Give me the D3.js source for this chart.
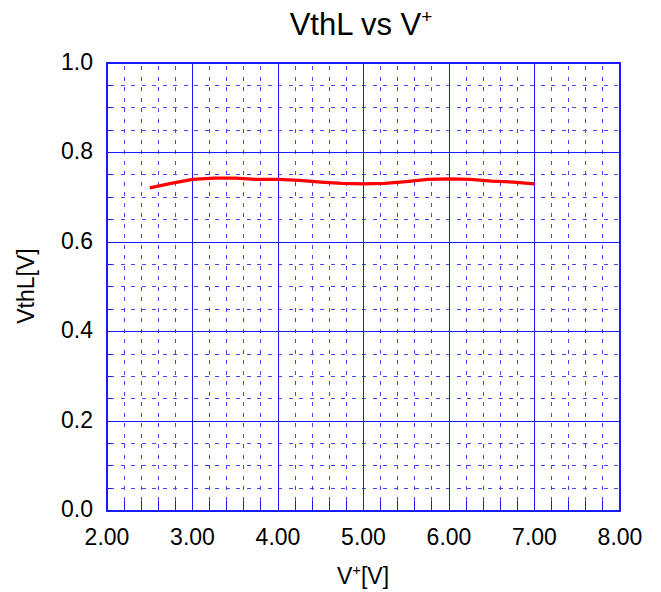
<!DOCTYPE html>
<html>
<head>
<meta charset="utf-8">
<script src="https://cdn.jsdelivr.net/npm/d3@7"></script>
<style>
  html, body { margin: 0; padding: 0; background: #fff; }
  text { font-family: "Liberation Sans", Arial, sans-serif; fill: #000; }
</style>
</head>
<body>
<svg id="chart" width="661" height="592"></svg>
<script>
// ---- data ----
const vplus = [2.5, 2.75, 3.0, 3.25, 3.5, 3.75, 4.0, 4.25, 4.5, 4.75, 5.0, 5.25, 5.5, 5.75, 6.0, 6.25, 6.5, 6.75, 7.0];
const vthl  = [0.721, 0.731, 0.740, 0.743, 0.743, 0.740, 0.740, 0.738, 0.734, 0.731, 0.730, 0.731, 0.735, 0.740, 0.741, 0.740, 0.736, 0.734, 0.730];
const xTickValues = [2, 3, 4, 5, 6, 7, 8];
const xTickLabels = ["2.00", "3.00", "4.00", "5.00", "6.00", "7.00", "8.00"];
const yTickValues = [0, 0.2, 0.4, 0.6, 0.8, 1.0];
const yTickLabels = ["0.0", "0.2", "0.4", "0.6", "0.8", "1.0"];
const titleMain = "VthL vs V";
const titleSup = "+";
const xTitleParts = ["V", "+", "[V]"];
const yTitle = "VthL[V]";

const svg = d3.select("#chart");
const pL = 107, pR = 620, pT = 63, pB = 510.7;

const x = d3.scaleLinear().domain([2, 8]).range([pL, pR]);
const y = d3.scaleLinear().domain([0, 1]).range([pB, pT]);

const gridColor = "#1a1aff";
const minorColor = "#4646f2";

const xMinor = x.ticks(30).filter(v => !xTickValues.some(t => Math.abs(t - v) < 1e-9));
const yMinor = y.ticks(20).filter(v => !yTickValues.some(t => Math.abs(t - v) < 1e-9));

const g = svg.append("g").attr("shape-rendering", "crispEdges");

// minor dashed grid
g.selectAll(".vminor").data(xMinor).enter().append("line")
  .attr("x1", d => x(d)).attr("x2", d => x(d))
  .attr("y1", pT).attr("y2", pB)
  .attr("stroke", minorColor).attr("stroke-width", 1)
  .attr("stroke-dasharray", "4,6.5").attr("stroke-dashoffset", -3);
g.selectAll(".hminor").data(yMinor).enter().append("line")
  .attr("x1", pL).attr("x2", pR)
  .attr("y1", d => y(d)).attr("y2", d => y(d))
  .attr("stroke", minorColor).attr("stroke-width", 1)
  .attr("stroke-dasharray", "4,6.5").attr("stroke-dashoffset", -3);

// major solid grid
g.selectAll(".vmajor").data(xTickValues).enter().append("line")
  .attr("x1", d => x(d)).attr("x2", d => x(d))
  .attr("y1", pT).attr("y2", pB)
  .attr("stroke", gridColor).attr("stroke-width", 1);
g.selectAll(".hmajor").data(yTickValues).enter().append("line")
  .attr("x1", pL).attr("x2", pR)
  .attr("y1", d => y(d)).attr("y2", d => y(d))
  .attr("stroke", gridColor).attr("stroke-width", 1);

// minor ticks (inward)
g.selectAll(".xtick").data(xMinor).enter().append("line")
  .attr("x1", d => x(d)).attr("x2", d => x(d))
  .attr("y1", pB).attr("y2", pB - 10)
  .attr("stroke", gridColor).attr("stroke-width", 1);
g.selectAll(".ytick").data(yMinor).enter().append("line")
  .attr("x1", pL).attr("x2", pL + 5)
  .attr("y1", d => y(d)).attr("y2", d => y(d))
  .attr("stroke", gridColor).attr("stroke-width", 1);

// frame
g.append("rect")
  .attr("x", pL).attr("y", pT)
  .attr("width", pR - pL).attr("height", pB - pT)
  .attr("fill", "none").attr("stroke", gridColor).attr("stroke-width", 2);

// data line
const line = d3.line().x((d, i) => x(vplus[i])).y(d => y(d));
svg.append("path").datum(vthl)
  .attr("d", line)
  .attr("fill", "none").attr("stroke", "#ff0000")
  .attr("stroke-width", 3.2).attr("stroke-linejoin", "round");

// tick labels
svg.selectAll(".xl").data(xTickValues).enter().append("text")
  .attr("x", d => x(d)).attr("y", 545)
  .attr("text-anchor", "middle").attr("font-size", 23)
  .text((d, i) => xTickLabels[i]);
svg.selectAll(".yl").data(yTickValues).enter().append("text")
  .attr("x", 93).attr("y", d => y(d) + 6.5)
  .attr("text-anchor", "end").attr("font-size", 23)
  .text((d, i) => yTickLabels[i]);

// title
const t = svg.append("text").attr("x", 361).attr("y", 35)
  .attr("text-anchor", "middle").attr("font-size", 31);
t.append("tspan").text(titleMain);
t.append("tspan").attr("dy", -12).attr("font-size", 19).text(titleSup);

// x axis title
const xt = svg.append("text").attr("x", 363).attr("y", 583.5)
  .attr("text-anchor", "middle").attr("font-size", 23);
xt.append("tspan").text(xTitleParts[0]);
xt.append("tspan").attr("dy", -9).attr("font-size", 15).text(xTitleParts[1]);
xt.append("tspan").attr("dy", 9).text(xTitleParts[2]);

// y axis title
svg.append("text")
  .attr("transform", `translate(34, 286) rotate(-90)`)
  .attr("text-anchor", "middle").attr("font-size", 23)
  .text(yTitle);
</script>
</body>
</html>
